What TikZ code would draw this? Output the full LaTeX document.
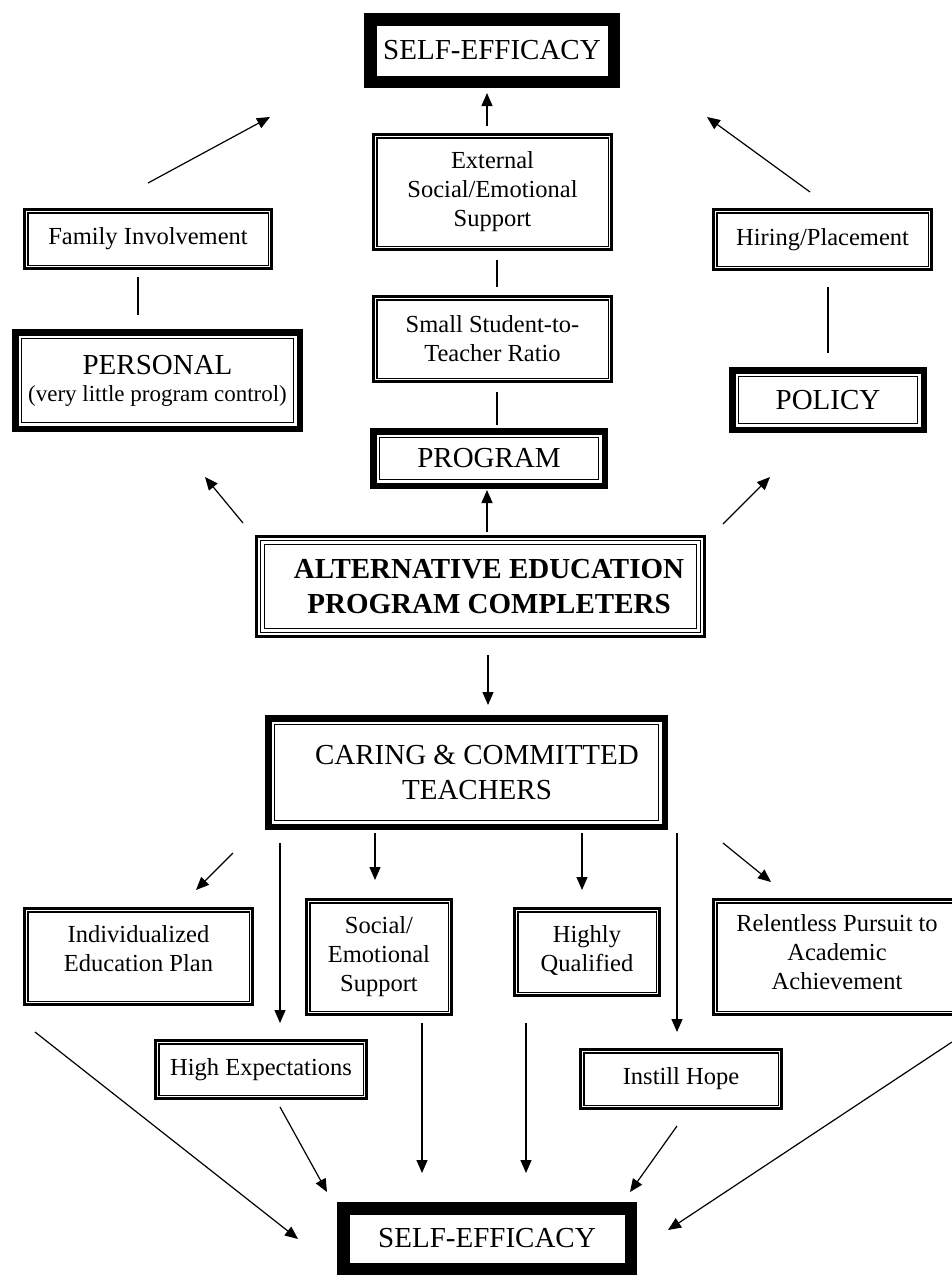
\documentclass[tikz,border=0pt]{standalone}
\usepackage{fontspec}
\setmainfont{Liberation Serif}
\usetikzlibrary{arrows.meta}
\newcommand\fsmall{\fontsize{24.5}{29}\selectfont}
\newcommand\fbig{\fontsize{29}{35}\selectfont}
\tikzset{
  boxbase/.style 2 args={rectangle, inner sep=0pt, minimum width=#1, minimum height=#2, align=center, font=\fsmall, draw=black},
  dbl/.style 2 args={boxbase={#1pt-2.7pt}{#2pt-2.7pt}, line width=2.7pt,
    path picture={\draw[line width=1.3pt] ([shift={(3.5pt,-3.5pt)}]path picture bounding box.north west) rectangle ([shift={(-3.5pt,3.5pt)}]path picture bounding box.south east);}},
  thk/.style 2 args={boxbase={#1pt-6.5pt}{#2pt-6.5pt}, line width=6.5pt,
    path picture={\draw[line width=1.6pt] ([shift={(6.35pt,-6.35pt)}]path picture bounding box.north west) rectangle ([shift={(-6.35pt,6.35pt)}]path picture bounding box.south east);}},
  tri/.style 2 args={boxbase={#1pt-3pt}{#2pt-3pt}, line width=3pt,
    path picture={\draw[line width=1.7pt] ([shift={(4.05pt,-4.05pt)}]path picture bounding box.north west) rectangle ([shift={(-4.05pt,4.05pt)}]path picture bounding box.south east);
      \draw[line width=1.7pt] ([shift={(8.05pt,-8.05pt)}]path picture bounding box.north west) rectangle ([shift={(-8.05pt,8.05pt)}]path picture bounding box.south east);}},
  sebox/.style 2 args={boxbase={#1pt-12.5pt}{#2pt-12.5pt}, line width=12.5pt, font=\fbig},
  arr/.style={line width=1.2pt, -{Triangle[length=13pt,width=11pt]}},
  conn/.style={line width=1.2pt},
}
\begin{document}
\begin{tikzpicture}[x=1pt,y=-1pt]
\clip (0,0) rectangle (952,1275);
\fill[white] (0,0) rectangle (952,1275);
% top part
\node[sebox={256}{75}] (seTop) at (492,50.5) {SELF-EFFICACY};
\node[dbl={241}{118}] (ext) at (492.5,192) {External\\Social/Emotional\\Support};
\node[dbl={241}{88}] (ratio) at (492.5,339) {Small Student-to-\\Teacher Ratio};
\node[thk={238}{61}, font=\fbig] (prog) at (489,458.5) {PROGRAM};
\node[dbl={250}{62}] (family) at (148,239) {Family Involvement};
\node[thk={291}{103}] (personal) at (157.5,380.5) {{\fbig PERSONAL}\\[-2pt]{\fontsize{23}{28}\selectfont (very little program control)}};
\node[dbl={221}{63}] (hiring) at (822.5,239.5) {Hiring/Placement};
\node[thk={198}{66}, font=\fbig] (policy) at (828,400) {POLICY};
\node[tri={451}{103}, font=\fbig\bfseries] (alt) at (480.5,586.5) {\hspace*{17pt}ALTERNATIVE EDUCATION\\\hspace*{17pt}PROGRAM COMPLETERS};
\node[thk={403}{115}, font=\fbig] (caring) at (466.5,772.5) {\hspace*{21pt}CARING \& COMMITTED\\\hspace*{21pt}TEACHERS};
% bottom part
\node[dbl={231}{99}] (iep) at (138.5,956.5) {Individualized\\Education Plan\\[-13pt]\mbox{}};
\node[dbl={148}{118}] (soc) at (379,957) {Social/\\Emotional\\Support};
\node[dbl={148}{90}] (hq) at (587,952) {Highly\\Qualified\\[-21pt]\mbox{}};
\node[dbl={250}{118}] (rel) at (837,957) {Relentless Pursuit to\\Academic\\Achievement\\[-19pt]\mbox{}};
\node[dbl={214}{61}] (hexp) at (261,1069.5) {High Expectations};
\node[dbl={204}{62}] (hope) at (681,1079) {Instill Hope};
\node[sebox={300}{73}] (seBot) at (487,1238.5) {SELF-EFFICACY};
% connector end points
\coordinate (a1s) at (148,183); \coordinate (a1e) at (270,117);
\coordinate (a2s) at (487,126); \coordinate (a2e) at (487,93);
\coordinate (a3s) at (810,192); \coordinate (a3e) at (707,117);
\coordinate (l1s) at (138,277); \coordinate (l1e) at (138,315);
\coordinate (l2s) at (497,260); \coordinate (l2e) at (497,287);
\coordinate (l3s) at (497,392); \coordinate (l3e) at (497,425);
\coordinate (l4s) at (828,287); \coordinate (l4e) at (828,353);
\coordinate (a4s) at (243,523); \coordinate (a4e) at (205,477);
\coordinate (a5s) at (487,532); \coordinate (a5e) at (487,490);
\coordinate (a6s) at (723,524); \coordinate (a6e) at (770,477);
\coordinate (a7s) at (488,655); \coordinate (a7e) at (488,705);
\coordinate (a8s) at (233,853); \coordinate (a8e) at (196,890);
\coordinate (a9s) at (280,843); \coordinate (a9e) at (280,1023);
\coordinate (a10s) at (375,833); \coordinate (a10e) at (375,880);
\coordinate (a11s) at (582,833); \coordinate (a11e) at (582,890);
\coordinate (a12s) at (677,833); \coordinate (a12e) at (677,1032);
\coordinate (a13s) at (723,843); \coordinate (a13e) at (771,882);
\coordinate (b1s) at (35,1032); \coordinate (b1e) at (298,1239);
\coordinate (b2s) at (280,1107); \coordinate (b2e) at (327,1192);
\coordinate (b3s) at (422,1023); \coordinate (b3e) at (422,1173);
\coordinate (b4s) at (526,1023); \coordinate (b4e) at (526,1173);
\coordinate (b5s) at (677,1126); \coordinate (b5e) at (630,1192);
\coordinate (b6s) at (952,1042); \coordinate (b6e) at (668,1230);
% connectors
\draw[arr] (a1s) -- (a1e);
\draw[arr] (a2s) -- (a2e);
\draw[arr] (a3s) -- (a3e);
\draw[conn] (l1s) -- (l1e);
\draw[conn] (l2s) -- (l2e);
\draw[conn] (l3s) -- (l3e);
\draw[conn] (l4s) -- (l4e);
\draw[arr] (a4s) -- (a4e);
\draw[arr] (a5s) -- (a5e);
\draw[arr] (a6s) -- (a6e);
\draw[arr] (a7s) -- (a7e);
\draw[arr] (a8s) -- (a8e);
\draw[arr] (a9s) -- (a9e);
\draw[arr] (a10s) -- (a10e);
\draw[arr] (a11s) -- (a11e);
\draw[arr] (a12s) -- (a12e);
\draw[arr] (a13s) -- (a13e);
\draw[arr] (b1s) -- (b1e);
\draw[arr] (b2s) -- (b2e);
\draw[arr] (b3s) -- (b3e);
\draw[arr] (b4s) -- (b4e);
\draw[arr] (b5s) -- (b5e);
\draw[arr] (b6s) -- (b6e);
\end{tikzpicture}
\end{document}
